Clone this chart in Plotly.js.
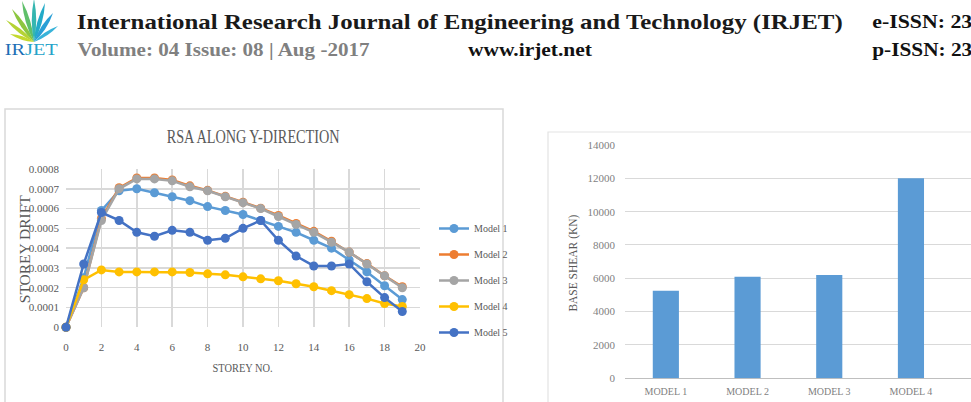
<!DOCTYPE html>
<html>
<head>
<meta charset="utf-8">
<script src="https://cdn.plot.ly/plotly-3.0.1.min.js"></script>
<style>
  html, body { margin: 0; padding: 0; background: #ffffff; }
  #page { width: 971px; height: 402px; }
</style>
</head>
<body>
<div id="page"></div>
<script>
// Storey drift from response spectrum analysis (Y direction)
const storeys = [0, 1, 2, 3, 4, 5, 6, 7, 8, 9, 10, 11, 12, 13, 14, 15, 16, 17, 18, 19];
const model1 = [0, 0.00025, 0.00059, 0.00069, 0.0007, 0.00068, 0.00066, 0.00064, 0.00061, 0.00059, 0.00057, 0.00054, 0.00051, 0.00048, 0.00044, 0.0004, 0.00034, 0.00028, 0.00021, 0.00014];
const model2 = [0, 0.0002, 0.00055, 0.000705, 0.000755, 0.000755, 0.000745, 0.000715, 0.000692, 0.000662, 0.000632, 0.000602, 0.000565, 0.000525, 0.000485, 0.000435, 0.00038, 0.000322, 0.00026, 0.000205];
const model3 = [0, 0.0002, 0.00054, 0.0007, 0.00075, 0.00075, 0.00074, 0.00071, 0.00069, 0.00066, 0.00063, 0.0006, 0.00056, 0.00052, 0.00048, 0.00043, 0.00038, 0.00032, 0.00026, 0.0002];
const model4 = [0, 0.00024, 0.00029, 0.00028, 0.00028, 0.00028, 0.00028, 0.000277, 0.00027, 0.000265, 0.000255, 0.000245, 0.000235, 0.00022, 0.000205, 0.000185, 0.000165, 0.000145, 0.00012, 0.000105];
const model5 = [0, 0.00032, 0.00058, 0.00054, 0.00048, 0.00046, 0.00049, 0.00048, 0.00044, 0.00045, 0.0005, 0.00054, 0.00044, 0.00036, 0.00031, 0.00031, 0.00032, 0.00023, 0.00015, 0.00008];
const driftSeriesNames = ['Model 1', 'Model 2', 'Model 3', 'Model 4', 'Model 5'];
const driftTickVals = [0, 0.0001, 0.0002, 0.0003, 0.0004, 0.0005, 0.0006, 0.0007, 0.0008];
const driftTickText = ['0', '0.0001', '0.0002', '0.0003', '0.0004', '0.0005', '0.0006', '0.0007', '0.0008'];

// Base shear per model (kN)
const shearModels = ['MODEL 1', 'MODEL 2', 'MODEL 3', 'MODEL 4'];
const baseShear = [5250, 6100, 6200, 12000];

// ---- helpers: page pixels -> paper fractions ----
const W = 971, H = 402;
const px = x => x / W;
const py = y => 1 - y / H;

const serif = "'Liberation Serif', 'Times New Roman', serif";
const grey = '#595959';
const grid = '#d9d9d9';

const seriesColors = ['#5b9bd5', '#ed7d31', '#a5a5a5', '#ffc000', '#4472c4'];
const driftData = [model1, model2, model3, model4, model5];

const traces = driftData.map((ys, i) => ({
  type: 'scatter',
  mode: 'lines+markers',
  x: storeys,
  y: ys,
  name: driftSeriesNames[i],
  legendgroup: 'g' + i,
  line: { color: seriesColors[i], width: 2.5 },
  marker: { color: seriesColors[i], size: 9, symbol: 'circle' },
  xaxis: 'x',
  yaxis: 'y',
  cliponaxis: false
}));

traces.push({
  type: 'bar',
  x: shearModels,
  y: baseShear,
  marker: { color: '#5b9bd5' },
  width: 0.32,
  showlegend: false,
  xaxis: 'x2',
  yaxis: 'y2'
});

// ---- journal logo leaves ----
function leaf(bx, by, tx, ty, w, color) {
  const mx = (bx + tx) / 2, my = (by + ty) / 2;
  const dx = tx - bx, dy = ty - by;
  const len = Math.hypot(dx, dy);
  const nx = -dy / len * w, ny = dx / len * w;
  const p = (x, y) => px(x).toFixed(5) + ',' + py(y).toFixed(5);
  return {
    type: 'path', xref: 'paper', yref: 'paper',
    path: 'M' + p(bx, by) + ' Q' + p(mx + nx, my + ny) + ' ' + p(tx, ty) +
          ' Q' + p(mx - nx, my - ny) + ' ' + p(bx, by) + ' Z',
    fillcolor: color, line: { width: 0 }, layer: 'above'
  };
}

const shapes = [
  // chart frames
  { type: 'rect', xref: 'paper', yref: 'paper', x0: px(5), x1: px(503), y0: py(420), y1: py(109),
    line: { color: '#d9d9d9', width: 1.5 }, fillcolor: 'rgba(0,0,0,0)', layer: 'below' },
  { type: 'rect', xref: 'paper', yref: 'paper', x0: px(548), x1: px(990), y0: py(420), y1: py(132),
    line: { color: '#e3e3e3', width: 1.2 }, fillcolor: 'rgba(0,0,0,0)', layer: 'below' },
  // logo
  leaf(34, 42, 6, 20, 4, '#b5d334'),
  leaf(34, 42, 12, 9, 4.5, '#8cc63f'),
  leaf(34, 42, 22, 1, 4.5, '#5fbf6a'),
  leaf(34, 42, 34, -1, 4.5, '#35b6b0'),
  leaf(34, 42, 45, 3, 4.5, '#23aac8'),
  leaf(34, 42, 53, 13, 4.5, '#2a9fd6'),
  leaf(34, 42, 58, 26, 3.5, '#38b3d9'),
  leaf(34, 42, 10, 34, 3.5, '#c4d82e')
];

const annotations = [
  // header
  { text: '<b>International Research Journal of Engineering and Technology (IRJET)</b>',
    x: px(459), y: py(22), font: { family: serif, size: 22, color: '#1a1a1a' } },
  { text: '<b>Volume: 04 Issue: 08 | Aug -2017</b>',
    x: px(224), y: py(50), font: { family: serif, size: 19, color: '#808080' } },
  { text: '<b>www.irjet.net</b>',
    x: px(530), y: py(50), font: { family: serif, size: 18, color: '#111111' } },
  { text: '<b>e-ISSN: 23</b>',
    x: px(922), y: py(22), font: { family: serif, size: 18, color: '#111111' } },
  { text: '<b>p-ISSN: 23</b>',
    x: px(922), y: py(50), font: { family: serif, size: 18, color: '#111111' } },
  { text: '<span style="color:#1c6fb5">IR</span><span style="color:#25a3c9">JET</span>',
    x: px(31), y: py(50), font: { family: serif, size: 17 } },
  // drift chart
  { text: 'RSA ALONG Y-DIRECTION', x: px(253), y: py(137),
    font: { family: serif, size: 18, color: grey } },
  { text: 'STOREY DRIFT', x: px(25), y: py(249), textangle: -90,
    font: { family: serif, size: 14, color: grey } },
  { text: 'STOREY NO.', x: px(243), y: py(367),
    font: { family: serif, size: 13, color: grey } },
  // base shear chart
  { text: 'BASE SHEAR (KN)', x: px(572), y: py(263), textangle: -90,
    font: { family: serif, size: 13, color: grey } }
].map(a => Object.assign({ xref: 'paper', yref: 'paper', showarrow: false,
  xanchor: 'center', yanchor: 'middle' }, a));

// rendered widths of the condensed headline typefaces
const condensedWidths = {
  'International Research Journal of Engineering and Technology (IRJET)': 766,
  'Volume: 04 Issue: 08 | Aug -2017': 292,
  'www.irjet.net': 124,
  'e-ISSN: 23': 100,
  'p-ISSN: 23': 100,
  'IRJET': 53,
  'RSA ALONG Y-DIRECTION': 173,
  'STOREY DRIFT': 108,
  'STOREY NO.': 60,
  'BASE SHEAR (KN)': 97
};

const layout = {
  width: W,
  height: H,
  margin: { l: 0, r: 0, t: 0, b: 0 },
  paper_bgcolor: '#ffffff',
  plot_bgcolor: 'rgba(0,0,0,0)',
  font: { family: serif },
  showlegend: true,
  legend: {
    x: px(434), y: py(214), xanchor: 'left', yanchor: 'top',
    traceorder: 'grouped', tracegroupgap: 7, itemwidth: 30,
    font: { family: serif, size: 10, color: grey },
    bgcolor: 'rgba(0,0,0,0)'
  },
  xaxis: {
    domain: [px(66), px(420)], range: [0, 20], anchor: 'y',
    tickmode: 'linear', tick0: 0, dtick: 2,
    showgrid: true, gridcolor: grid, gridwidth: 1.5,
    zeroline: false, showline: false, ticks: '',
    ticklabelstandoff: 12,
    tickfont: { family: serif, size: 11, color: grey },
    fixedrange: true
  },
  yaxis: {
    domain: [py(327.3), py(169)], range: [0, 0.0008], anchor: 'x',
    tickmode: 'array', tickvals: driftTickVals, ticktext: driftTickText,
    showgrid: true, gridcolor: grid, gridwidth: 1.5,
    zeroline: false, showline: false, ticks: '',
    ticklabelstandoff: 6,
    tickfont: { family: serif, size: 11, color: grey },
    fixedrange: true
  },
  xaxis2: {
    domain: [px(625), 1], range: [-0.5, 3.735], anchor: 'y2',
    type: 'category',
    showgrid: false, zeroline: false, showline: false, ticks: '',
    ticklabelstandoff: 6,
    tickfont: { family: serif, size: 10, color: '#7f7f7f' },
    fixedrange: true
  },
  yaxis2: {
    domain: [py(378.3), py(145)], range: [0, 14000], anchor: 'x2',
    tickmode: 'linear', tick0: 0, dtick: 2000, tickformat: 'd',
    showgrid: true, gridcolor: grid, gridwidth: 1,
    zeroline: true, zerolinecolor: '#bfbfbf', zerolinewidth: 1.5,
    showline: false, ticks: '',
    ticklabelstandoff: 9,
    tickfont: { family: serif, size: 11, color: '#7f7f7f' },
    fixedrange: true
  },
  shapes: shapes,
  annotations: annotations
};

Plotly.newPlot('page', traces, layout, { displayModeBar: false, staticPlot: true }).then(gd => {
  gd.querySelectorAll('text.annotation-text').forEach(t => {
    const w = condensedWidths[t.textContent];
    if (w) {
      t.setAttribute('textLength', w);
      t.setAttribute('lengthAdjust', 'spacingAndGlyphs');
    }
  });
});
</script>
</body>
</html>
